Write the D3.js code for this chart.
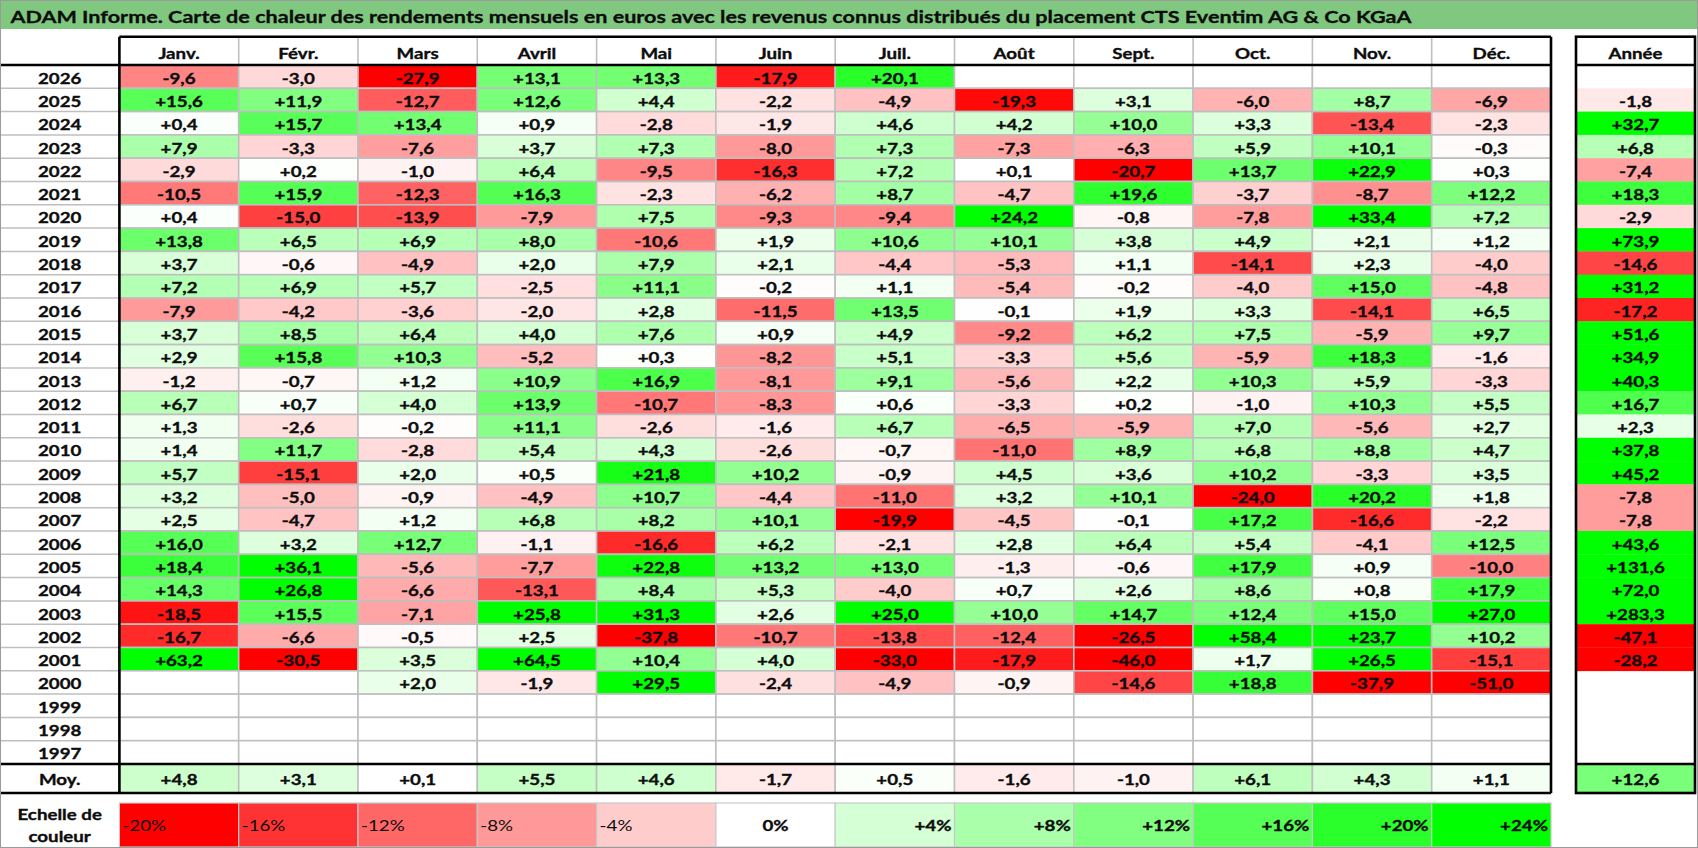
<!DOCTYPE html>
<html>
<head>
<meta charset="utf-8">
<script src="https://cdn.jsdelivr.net/npm/d3@7"></script>
<style>
  body { margin: 0; background: #fff; }
  svg { display: block; font-family: Lato, "Open Sans", sans-serif; }
</style>
</head>
<body>
<div id="chartContainer"></div>
<script>
const titleText = "ADAM Informe. Carte de chaleur des rendements mensuels en euros avec les revenus connus distribués du placement CTS Eventim AG & Co KGaA";

const months = ["Janv.", "Févr.", "Mars", "Avril", "Mai", "Juin", "Juil.", "Août", "Sept.", "Oct.", "Nov.", "Déc."];

const years = [2026, 2025, 2024, 2023, 2022, 2021, 2020, 2019, 2018, 2017, 2016, 2015, 2014, 2013,
    2012, 2011, 2010, 2009, 2008, 2007, 2006, 2005, 2004, 2003, 2002, 2001, 2000, 1999, 1998, 1997];

// monthly returns, one row per year (same order as years)
const monthly = [
    [-9.6, -3.0, -27.9, 13.1, 13.3, -17.9, 20.1, null, null, null, null, null],
    [15.6, 11.9, -12.7, 12.6, 4.4, -2.2, -4.9, -19.3, 3.1, -6.0, 8.7, -6.9],
    [0.4, 15.7, 13.4, 0.9, -2.8, -1.9, 4.6, 4.2, 10.0, 3.3, -13.4, -2.3],
    [7.9, -3.3, -7.6, 3.7, 7.3, -8.0, 7.3, -7.3, -6.3, 5.9, 10.1, -0.3],
    [-2.9, 0.2, -1.0, 6.4, -9.5, -16.3, 7.2, 0.1, -20.7, 13.7, 22.9, 0.3],
    [-10.5, 15.9, -12.3, 16.3, -2.3, -6.2, 8.7, -4.7, 19.6, -3.7, -8.7, 12.2],
    [0.4, -15.0, -13.9, -7.9, 7.5, -9.3, -9.4, 24.2, -0.8, -7.8, 33.4, 7.2],
    [13.8, 6.5, 6.9, 8.0, -10.6, 1.9, 10.6, 10.1, 3.8, 4.9, 2.1, 1.2],
    [3.7, -0.6, -4.9, 2.0, 7.9, 2.1, -4.4, -5.3, 1.1, -14.1, 2.3, -4.0],
    [7.2, 6.9, 5.7, -2.5, 11.1, -0.2, 1.1, -5.4, -0.2, -4.0, 15.0, -4.8],
    [-7.9, -4.2, -3.6, -2.0, 2.8, -11.5, 13.5, -0.1, 1.9, 3.3, -14.1, 6.5],
    [3.7, 8.5, 6.4, 4.0, 7.6, 0.9, 4.9, -9.2, 6.2, 7.5, -5.9, 9.7],
    [2.9, 15.8, 10.3, -5.2, 0.3, -8.2, 5.1, -3.3, 5.6, -5.9, 18.3, -1.6],
    [-1.2, -0.7, 1.2, 10.9, 16.9, -8.1, 9.1, -5.6, 2.2, 10.3, 5.9, -3.3],
    [6.7, 0.7, 4.0, 13.9, -10.7, -8.3, 0.6, -3.3, 0.2, -1.0, 10.3, 5.5],
    [1.3, -2.6, -0.2, 11.1, -2.6, -1.6, 6.7, -6.5, -5.9, 7.0, -5.6, 2.7],
    [1.4, 11.7, -2.8, 5.4, 4.3, -2.6, -0.7, -11.0, 8.9, 6.8, 8.8, 4.7],
    [5.7, -15.1, 2.0, 0.5, 21.8, 10.2, -0.9, 4.5, 3.6, 10.2, -3.3, 3.5],
    [3.2, -5.0, -0.9, -4.9, 10.7, -4.4, -11.0, 3.2, 10.1, -24.0, 20.2, 1.8],
    [2.5, -4.7, 1.2, 6.8, 8.2, 10.1, -19.9, -4.5, -0.1, 17.2, -16.6, -2.2],
    [16.0, 3.2, 12.7, -1.1, -16.6, 6.2, -2.1, 2.8, 6.4, 5.4, -4.1, 12.5],
    [18.4, 36.1, -5.6, -7.7, 22.8, 13.2, 13.0, -1.3, -0.6, 17.9, 0.9, -10.0],
    [14.3, 26.8, -6.6, -13.1, 8.4, 5.3, -4.0, 0.7, 2.6, 8.6, 0.8, 17.9],
    [-18.5, 15.5, -7.1, 25.8, 31.3, 2.6, 25.0, 10.0, 14.7, 12.4, 15.0, 27.0],
    [-16.7, -6.6, -0.5, 2.5, -37.8, -10.7, -13.8, -12.4, -26.5, 58.4, 23.7, 10.2],
    [63.2, -30.5, 3.5, 64.5, 10.4, 4.0, -33.0, -17.9, -46.0, 1.7, 26.5, -15.1],
    [null, null, 2.0, -1.9, 29.5, -2.4, -4.9, -0.9, -14.6, 18.8, -37.9, -51.0],
    [null, null, null, null, null, null, null, null, null, null, null, null],
    [null, null, null, null, null, null, null, null, null, null, null, null],
    [null, null, null, null, null, null, null, null, null, null, null, null]
];

const annual = [null, -1.8, 32.7, 6.8, -7.4, 18.3, -2.9, 73.9, -14.6, 31.2, -17.2, 51.6, 34.9, 40.3,
    16.7, 2.3, 37.8, 45.2, -7.8, -7.8, 43.6, 131.6, 72.0, 283.3, -47.1, -28.2, null, null, null, null];

const monthAvg = [4.8, 3.1, 0.1, 5.5, 4.6, -1.7, 0.5, -1.6, -1.0, 6.1, 4.3, 1.1];
const annualAvg = 12.6;

const scaleSteps = [-20, -16, -12, -8, -4, 0, 4, 8, 12, 16, 20, 24];

// ---------------------------------------------------------------

const width = 1698;
const height = 848;

const colLeft = 119.4;
const colRight = 1551;
const yearBoxLeft = 1576;
const yearBoxRight = 1695;
const headerTop = 36.7;
const bodyTop = 65;
const bodyBottom = 764;
const avgBottom = 793;
const scaleTop = 803;
const scaleBottom = 847;

const gridColor = '#bfbfbf';
const textColor = '#0d0d0d';
const fontSize = 15.6;
const stretch = 1.2;   // the picture is wider than the font

const svg = d3.select('#chartContainer')
    .append('svg')
    .attr('width', width)
    .attr('height', height)
    .attr('viewBox', `0 0 ${width} ${height}`);

const scaleX = d3.scaleBand()
    .domain(months)
    .range([colLeft, colRight]);

const scaleY = d3.scaleBand()
    .domain(years)
    .range([bodyTop, bodyBottom]);

const color = d3.scaleLinear()
    .domain([-20, 0, 24])
    .range(['#ff0000', '#ffffff', '#00ff00'])
    .clamp(true);

const fmt = (v) => (v > 0 ? '+' : '') + v.toFixed(1).replace('.', ',');

// title bar
svg.append('rect')
    .attr('x', 1).attr('y', 1)
    .attr('width', width - 2).attr('height', 28)
    .attr('fill', '#80c880');

svg.append('text')
    .attr('x', 10.5)
    .attr('y', 23.3)
    .attr('font-size', 17.2)
    .attr('font-weight', 'bold')
    .attr('fill', textColor)
    .attr('stroke', textColor)
    .attr('stroke-width', 0.3)
    .attr('textLength', 1401)
    .attr('lengthAdjust', 'spacingAndGlyphs')
    .text(titleText);

// left column grid lines (years)
svg.append('g')
    .selectAll('line')
    .data(years.slice(1))
    .enter()
    .append('line')
    .attr('x1', 0)
    .attr('x2', colLeft)
    .attr('y1', d => scaleY(d))
    .attr('y2', d => scaleY(d))
    .attr('stroke', gridColor)
    .attr('stroke-width', 1.5);

// heatmap cells
const cells = [];
years.forEach((y, i) => {
    months.forEach((m, j) => {
        cells.push({ year: y, month: m, value: monthly[i][j] });
    });
});

const cellGroup = svg.append('g').attr('class', 'cells');

cellGroup.selectAll('rect')
    .data(cells)
    .enter()
    .append('rect')
    .attr('x', d => scaleX(d.month))
    .attr('y', d => scaleY(d.year))
    .attr('width', scaleX.bandwidth())
    .attr('height', scaleY.bandwidth())
    .attr('fill', d => d.value === null ? '#fff' : color(d.value))
    .attr('stroke', gridColor)
    .attr('stroke-width', 1.6);

cellGroup.selectAll('text')
    .data(cells.filter(d => d.value !== null))
    .enter()
    .append('text')
    .classed('label', true)
    .attr('x', d => scaleX(d.month) + scaleX.bandwidth() / 2)
    .attr('y', d => scaleY(d.year) + scaleY.bandwidth() / 2 + 7)
    .attr('text-anchor', 'middle')
    .attr('font-weight', 'bold')
    .text(d => fmt(d.value));

// header row
svg.append('g')
    .selectAll('line')
    .data(months.slice(1))
    .enter()
    .append('line')
    .attr('x1', d => scaleX(d))
    .attr('x2', d => scaleX(d))
    .attr('y1', headerTop)
    .attr('y2', bodyTop)
    .attr('stroke', gridColor)
    .attr('stroke-width', 1.6);

svg.append('g')
    .selectAll('text')
    .data(months)
    .enter()
    .append('text')
    .classed('label', true)
    .attr('x', d => scaleX(d) + scaleX.bandwidth() / 2)
    .attr('y', 59)
    .attr('text-anchor', 'middle')
    .attr('font-weight', 'bold')
    .text(d => d);

// year labels
svg.append('g')
    .selectAll('text')
    .data(years)
    .enter()
    .append('text')
    .classed('label', true)
    .attr('x', colLeft / 2)
    .attr('y', d => scaleY(d) + scaleY.bandwidth() / 2 + 7)
    .attr('text-anchor', 'middle')
    .attr('font-weight', 'bold')
    .text(d => d);

// average row
const avgGroup = svg.append('g').attr('class', 'averages');

avgGroup.selectAll('rect')
    .data(monthAvg)
    .enter()
    .append('rect')
    .attr('x', (d, i) => scaleX(months[i]))
    .attr('y', bodyBottom)
    .attr('width', scaleX.bandwidth())
    .attr('height', avgBottom - bodyBottom)
    .attr('fill', d => color(d))
    .attr('stroke', gridColor)
    .attr('stroke-width', 1.6);

avgGroup.selectAll('text')
    .data(monthAvg)
    .enter()
    .append('text')
    .classed('label', true)
    .attr('x', (d, i) => scaleX(months[i]) + scaleX.bandwidth() / 2)
    .attr('y', 785)
    .attr('text-anchor', 'middle')
    .attr('font-weight', 'bold')
    .text(d => fmt(d));

svg.append('text')
    .classed('label', true)
    .attr('x', colLeft / 2)
    .attr('y', 785)
    .attr('text-anchor', 'middle')
    .attr('font-weight', 'bold')
    .text('Moy.');

// year column (Année)
const annualRows = annual.map((v, i) => ({ year: years[i], value: v })).filter(d => d.value !== null);
const yearGroup = svg.append('g').attr('class', 'annual');

yearGroup.selectAll('rect')
    .data(annualRows)
    .enter()
    .append('rect')
    .attr('x', yearBoxLeft)
    .attr('y', d => scaleY(d.year))
    .attr('width', yearBoxRight - yearBoxLeft)
    .attr('height', scaleY.bandwidth() + 0.3)
    .attr('fill', d => color(d.value));

yearGroup.selectAll('text')
    .data(annualRows)
    .enter()
    .append('text')
    .classed('label', true)
    .attr('x', (yearBoxLeft + yearBoxRight) / 2)
    .attr('y', d => scaleY(d.year) + scaleY.bandwidth() / 2 + 7)
    .attr('text-anchor', 'middle')
    .attr('font-weight', 'bold')
    .text(d => fmt(d.value));

yearGroup.append('rect')
    .attr('x', yearBoxLeft)
    .attr('y', bodyBottom)
    .attr('width', yearBoxRight - yearBoxLeft)
    .attr('height', avgBottom - bodyBottom)
    .attr('fill', color(annualAvg));

yearGroup.append('text')
    .classed('label', true)
    .attr('x', (yearBoxLeft + yearBoxRight) / 2)
    .attr('y', 785)
    .attr('text-anchor', 'middle')
    .attr('font-weight', 'bold')
    .text(fmt(annualAvg));

yearGroup.append('text')
    .classed('label', true)
    .attr('x', (yearBoxLeft + yearBoxRight) / 2)
    .attr('y', 59)
    .attr('text-anchor', 'middle')
    .attr('font-weight', 'bold')
    .text('Année');

// thick borders
const thick = svg.append('g')
    .attr('stroke', '#000')
    .attr('stroke-width', 2.6)
    .attr('fill', 'none');

thick.append('line').attr('x1', colLeft).attr('x2', colRight).attr('y1', headerTop).attr('y2', headerTop);
[bodyTop, bodyBottom, avgBottom].forEach(y => {
    thick.append('line').attr('x1', 0).attr('x2', colRight).attr('y1', y).attr('y2', y);
});
thick.append('line').attr('x1', colLeft).attr('x2', colLeft).attr('y1', headerTop).attr('y2', avgBottom);
thick.append('line').attr('x1', colRight).attr('x2', colRight).attr('y1', headerTop).attr('y2', avgBottom);

thick.append('rect')
    .attr('x', yearBoxLeft).attr('y', headerTop)
    .attr('width', yearBoxRight - yearBoxLeft).attr('height', avgBottom - headerTop);
[bodyTop, bodyBottom].forEach(y => {
    thick.append('line').attr('x1', yearBoxLeft).attr('x2', yearBoxRight).attr('y1', y).attr('y2', y);
});

// colour scale
const scaleBand = d3.scaleBand()
    .domain(scaleSteps)
    .range([colLeft, colRight]);

const legend = svg.append('g').attr('class', 'legend');

legend.selectAll('rect')
    .data(scaleSteps)
    .enter()
    .append('rect')
    .attr('x', d => scaleBand(d))
    .attr('y', scaleTop)
    .attr('width', scaleBand.bandwidth())
    .attr('height', scaleBottom - scaleTop)
    .attr('fill', d => color(d))
    .attr('stroke', '#c8c8c8')
    .attr('stroke-width', 1.2);

legend.selectAll('text')
    .data(scaleSteps)
    .enter()
    .append('text')
    .classed('label', true)
    .attr('x', d => d < 0 ? scaleBand(d) + 3 : d === 0 ? scaleBand(d) + scaleBand.bandwidth() / 2 : scaleBand(d) + scaleBand.bandwidth() - 3)
    .attr('y', 831)
    .attr('text-anchor', d => d < 0 ? 'start' : d === 0 ? 'middle' : 'end')
    .attr('font-weight', d => d < 0 ? 'normal' : 'bold')
    .text(d => (d > 0 ? '+' : '') + d + '%');

['Echelle de', 'couleur'].forEach((t, i) => {
    svg.append('text')
        .classed('label', true)
        .attr('x', colLeft / 2)
        .attr('y', 820 + i * 22)
        .attr('text-anchor', 'middle')
        .attr('font-weight', 'bold')
        .text(t);
});

// common text style, widened to match the picture
svg.selectAll('text.label')
    .attr('font-size', fontSize)
    .attr('fill', textColor)
    .each(function () {
        const el = d3.select(this);
        const len = this.getComputedTextLength();
        el.attr('textLength', len * stretch)
            .attr('lengthAdjust', 'spacingAndGlyphs');
        if (el.attr('font-weight') === 'bold') {
            el.attr('stroke', textColor).attr('stroke-width', 0.35);
        }
    });

// outer frame
svg.append('rect')
    .attr('x', 0.5).attr('y', 0.5)
    .attr('width', width - 1).attr('height', height - 1)
    .attr('fill', 'none')
    .attr('stroke', '#9a9a9a')
    .attr('stroke-width', 1);
</script>
</body>
</html>
